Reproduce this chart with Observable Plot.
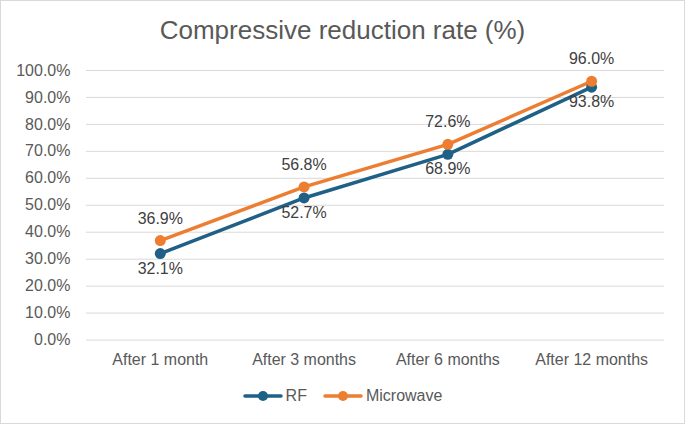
<!DOCTYPE html>
<html><head><meta charset="utf-8">
<script src="https://cdn.jsdelivr.net/npm/d3@7"></script>
<script src="https://cdn.jsdelivr.net/npm/@observablehq/plot@0.6"></script>
<style>
body{margin:0;background:#fff;font-family:"Liberation Sans",Arial,sans-serif;}
#wrap{width:683px;height:422px;border:1px solid #d9d9d9;position:relative;overflow:hidden;}
#title{position:absolute;left:0;top:14px;width:100%;text-align:center;font-size:26px;line-height:30px;color:#595959;}
#chart{position:absolute;left:-1px;top:49px;}
#legend{position:absolute;left:0;top:386px;width:100%;display:flex;justify-content:center;gap:16px;font-size:16px;color:#595959;align-items:center;}
.item{display:flex;align-items:center;gap:3px;}
</style></head>
<body>
<div id="wrap">
<div id="title">Compressive reduction rate (%)</div>
<div id="chart"></div>
<div id="legend"></div>
</div>
<script>
const categories = ["After 1 month","After 3 months","After 6 months","After 12 months"];
const seriesNames = ["RF","Microwave"];
const rfValues = [32.1, 52.7, 68.9, 93.8];
const microwaveValues = [36.9, 56.8, 72.6, 96.0];
const yTicks = [0,10,20,30,40,50,60,70,80,90,100];
const colors = ["#1f6086","#ed7d31"];

const data = [];
categories.forEach((c,i)=>{
  data.push({cat:c, series:"RF", v:rfValues[i]});
  data.push({cat:c, series:"Microwave", v:microwaveValues[i]});
});
const rf = data.filter(d=>d.series==="RF");
const mw = data.filter(d=>d.series==="Microwave");
const fmt = d => d.toFixed(1) + "%";

const plot = Plot.plot({
  width: 685, height: 326,
  marginLeft: 86, marginRight: 20, marginTop: 20, marginBottom: 36,
  style:{fontFamily:"Liberation Sans, Arial, sans-serif", fontSize:"16px", color:"#595959", background:"transparent"},
  x:{type:"point", domain:categories, padding:0.5, label:null, tickSize:0, tickPadding:14},
  y:{domain:[0,100], ticks:yTicks, tickFormat:fmt, label:null, tickSize:0, tickPadding:16},
  color:{domain:seriesNames, range:colors},
  marks:[
    Plot.ruleY(yTicks, {stroke:"#d9d9d9", strokeWidth:1}),
    Plot.axisX({tickSize:0, tickPadding:14, fontSize:16, fill:"#595959"}),
    Plot.axisY({ticks:yTicks, tickFormat:fmt, tickSize:0, tickPadding:16, fontSize:16, fill:"#595959"}),
    Plot.line(data, {x:"cat", y:"v", z:"series", stroke:"series", strokeWidth:3.5}),
    Plot.dot(data, {x:"cat", y:"v", fill:"series", r:5.5}),
    Plot.text(mw, {x:"cat", y:"v", text:d=>fmt(d.v), dy:-22, fill:"#404040", fontSize:16}),
    Plot.text(rf, {x:"cat", y:"v", text:d=>fmt(d.v), dy:15, fill:"#404040", fontSize:16})
  ]
});
document.getElementById("chart").appendChild(plot);

const leg = document.getElementById("legend");
seriesNames.forEach((s,i)=>{
  const it = document.createElement("div"); it.className="item";
  it.innerHTML = `<svg width="40" height="12"><line x1="2" x2="38" y1="6" y2="6" stroke="${colors[i]}" stroke-width="3.5" stroke-linecap="round"/><circle cx="20" cy="6" r="5" fill="${colors[i]}"/></svg><span>${s}</span>`;
  leg.appendChild(it);
});
</script>
</body></html>
